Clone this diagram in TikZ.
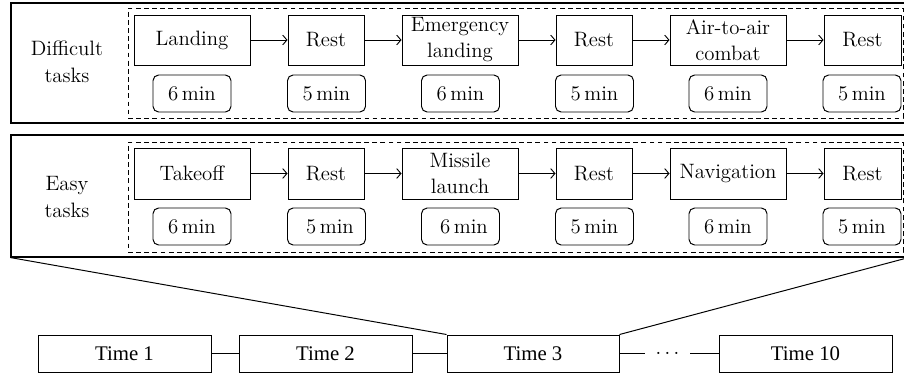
\documentclass[tikz,border=0pt]{standalone}
\usepackage{fontspec}
\newfontfamily\timesfont{Liberation Serif}
\usetikzlibrary{arrows.meta}
\tikzset{
  sz/.style n args={2}{minimum width=#1*0.025cm,minimum height=#2*0.025cm},
  panel/.style={draw,line width=0.8pt,inner sep=0pt},
  dashbox/.style={draw,line width=0.6pt,dash pattern=on 3.4pt off 2.4pt,inner sep=0pt},
  task/.style={draw,line width=0.7pt,inner sep=0pt,align=center,font=\fontsize{14.8}{18.5}\selectfont},
  mins/.style={draw,line width=0.7pt,inner sep=0pt,rounded corners=4pt,sz={78}{37},font=\fontsize{14.8}{16}\selectfont},
  lab/.style={align=center,font=\fontsize{14.8}{19}\selectfont},
  timebox/.style={draw,line width=0.7pt,inner sep=0pt,sz={173}{37},font=\timesfont\fontsize{14.8}{16}\selectfont},
  arr/.style={line width=0.65pt,-{Straight Barb[length=3pt,width=7pt,line width=0.65pt]}},
  conn/.style={line width=0.7pt}
}
\begin{document}
\begin{tikzpicture}[x=0.025cm,y=-0.025cm]
\useasboundingbox (0,0) rectangle (904,377);
% Top panel
\node[panel,sz={897}{120}] (toppanel) at (459.5,63) {};
\node[dashbox,sz={775}{110}] (topdash) at (515.5,63) {};
\node[lab] (dlab) at (67,62) {Difficult\\tasks};
\node[task,sz={116}{50}] (t1) at (192,40) {Landing};
\node[task,sz={76}{50}] (t2) at (326,40) {Rest};
\node[task,sz={116}{50}] (t3) at (460,40) {Emergency\\landing};
\node[task,sz={76}{50}] (t4) at (594,40) {Rest};
\node[task,sz={116}{50}] (t5) at (728,40) {Air-to-air\\combat};
\node[task,sz={77}{50}] (t6) at (862.5,40) {Rest};
\node[mins] (tm1) at (192,93.5) {6\,min};
\node[mins] (tm2) at (326.5,93.5) {5\,min};
\node[mins] (tm3) at (460.5,93.5) {6\,min};
\node[mins] (tm4) at (594.5,93.5) {5\,min};
\node[mins] (tm5) at (728,93.5) {6\,min};
\node[mins] (tm6) at (862,93.5) {5\,min};
\draw[arr] (t1) -- (t2);
\draw[arr] (t2) -- (t3);
\draw[arr] (t3) -- (t4);
\draw[arr] (t4) -- (t5);
\draw[arr] (t5) -- (t6);
% Bottom panel
\node[panel,sz={897}{122}] (botpanel) at (459.5,196) {};
\node[dashbox,sz={775}{110}] (botdash) at (515.5,197) {};
\node[lab] (elab) at (67,197) {Easy\\tasks};
\node[task,sz={116}{51}] (b1) at (192,173.5) {Takeoff};
\node[task,sz={76}{51}] (b2) at (326,173.5) {Rest};
\node[task,sz={116}{51}] (b3) at (460,173.5) {Missile\\launch};
\node[task,sz={76}{51}] (b4) at (594,173.5) {Rest};
\node[task,sz={116}{51}] (b5) at (728,173.5) {Navigation};
\node[task,sz={77}{51}] (b6) at (862.5,173.5) {Rest};
\node[mins] (bm1) at (192,226.5) {6\,min};
\node[mins] (bm2) at (326.5,226.5) {\hspace{5pt}5\,min};
\node[mins] (bm3) at (460.5,226.5) {\hspace{5pt}6\,min};
\node[mins] (bm4) at (594.5,226.5) {5\,min};
\node[mins] (bm5) at (728,226.5) {6\,min};
\node[mins] (bm6) at (862,226.5) {5\,min};
\draw[arr] (b1) -- (b2);
\draw[arr] (b2) -- (b3);
\draw[arr] (b3) -- (b4);
\draw[arr] (b4) -- (b5);
\draw[arr] (b5) -- (b6);
% Time line
\node[timebox] (time1) at (124.5,353.5) {Time 1};
\node[timebox] (time2) at (325.5,353.5) {Time 2};
\node[timebox,sz={172}{37}] (time3) at (533,353.5) {Time 3};
\node[timebox] (time10) at (805.5,353.5) {Time 10};
\node[inner sep=0pt,sz={45}{17},font=\fontsize{14.8}{16}\selectfont] (dots) at (667.5,353.5) {$\cdots$};
\draw[conn] (time1) -- (time2);
\draw[conn] (time2) -- (time3);
\draw[conn] (time3) -- (dots);
\draw[conn] (dots) -- (time10);
\draw[conn] (time3.north west) -- (botpanel.south west);
\draw[conn] (time3.north east) -- (botpanel.south east);
\end{tikzpicture}
\end{document}
